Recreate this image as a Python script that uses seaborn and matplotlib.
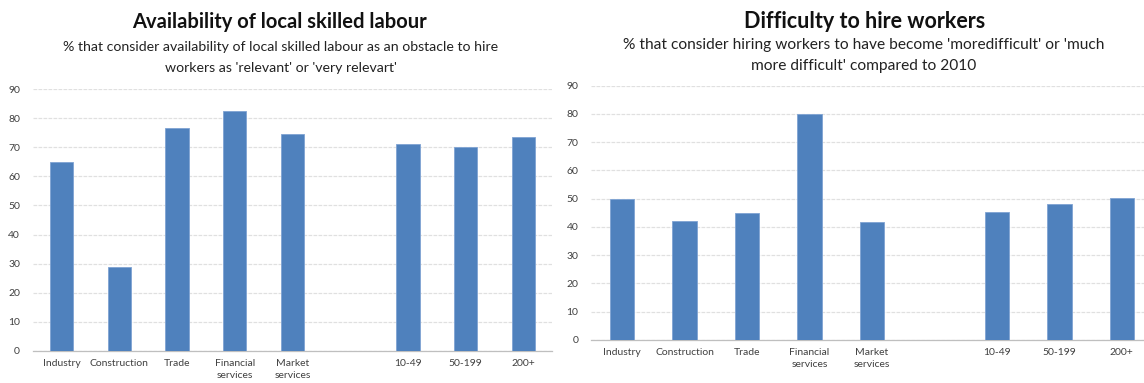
import matplotlib
matplotlib.use("Agg")
import matplotlib.pyplot as plt
from matplotlib.ticker import FixedLocator
import seaborn as sns
import pandas as pd

# Category slots (a blank slot separates sectors from firm-size classes)
slot_order = ["Industry", "Construction", "Trade", "Financial\nservices",
              "Market\nservices", " ", "10-49", "50-199", "200+"]
categories = ["Industry", "Construction", "Trade", "Financial\nservices",
              "Market\nservices", "10-49", "50-199", "200+"]

# % considering availability of local skilled labour a relevant obstacle
skilled_labour = [65.0, 29.0, 76.5, 82.6, 74.7, 71.0, 70.2, 73.4]
# % finding hiring more / much more difficult compared to 2010
hiring_difficulty = [50.0, 42.1, 44.8, 80.0, 41.9, 45.2, 48.1, 50.1]

y_ticks = [0, 10, 20, 30, 40, 50, 60, 70, 80, 90]

BAR = "#4F81BD"
GRID = "#e0e0e0"
AXIS = "#bfbfbf"
TXT = "#404040"

sns.set_theme(style="white")
plt.rcParams["font.family"] = ["Lato", "DejaVu Sans"]

fig = plt.figure(figsize=(11.44, 3.83), dpi=100)
ax_left = fig.add_axes([0.0285, 0.0836, 0.4544, 0.684])
ax_right = fig.add_axes([0.5166, 0.1123, 0.4913, 0.664])


def draw_panel(ax, values, xfs, bar_w):
    df = pd.DataFrame({"category": categories, "value": values})
    sns.barplot(data=df, x="category", y="value", order=slot_order,
                color=BAR, saturation=1, width=bar_w, ax=ax,
                edgecolor="#7fa3d3", linewidth=0.6, zorder=3)
    ax.set_xlim(-0.5, len(slot_order) - 0.5)
    ax.set_ylim(0, 90)
    ax.set_yticks(y_ticks)
    ax.set_xlabel("")
    ax.set_ylabel("")
    for s in ["top", "right", "left"]:
        ax.spines[s].set_visible(False)
    ax.spines["bottom"].set_color(AXIS)
    ax.spines["bottom"].set_linewidth(0.9)
    ax.yaxis.grid(True, color=GRID, linewidth=0.9, linestyle=(0, (3, 1)))
    ax.set_axisbelow(True)
    ax.tick_params(axis="y", length=0, labelsize=7.5, labelcolor=TXT, pad=9)
    ax.tick_params(axis="x", which="major", length=0, labelsize=xfs,
                   labelcolor=TXT, pad=6)
    ax.xaxis.set_minor_locator(FixedLocator([i + 0.5 for i in range(-1, len(slot_order))]))
    ax.tick_params(axis="x", which="minor", length=4, width=0.8,
                   color=AXIS, direction="out")
    for lab in ax.get_xticklabels():
        lab.set_linespacing(1.45)


draw_panel(ax_left, skilled_labour, 7.5, 0.40)
draw_panel(ax_right, hiring_difficulty, 7.5, 0.39)

fig.text(0.2439, 0.943, "Availability of local skilled labour", ha="center",
         va="center", fontsize=14.5, fontweight="bold", color="#111111")
fig.text(0.2456, 0.877,
         "% that consider availability of local skilled labour as an obstacle to hire",
         ha="center", va="center", fontsize=10.2, color="#222222")
fig.text(0.2456, 0.823, "workers as 'relevant' or 'very relevart'",
         ha="center", va="center", fontsize=10.2, color="#222222")

fig.text(0.756, 0.945, "Difficulty to hire workers", ha="center",
         va="center", fontsize=15.5, fontweight="bold", color="#111111")
fig.text(0.755, 0.882,
         "% that consider hiring workers to have become 'moredifficult' or 'much",
         ha="center", va="center", fontsize=11.2, color="#222222")
fig.text(0.755, 0.827, "more difficult' compared to 2010",
         ha="center", va="center", fontsize=11.2, color="#222222")

fig.savefig("out.png", dpi=100, facecolor="white")
